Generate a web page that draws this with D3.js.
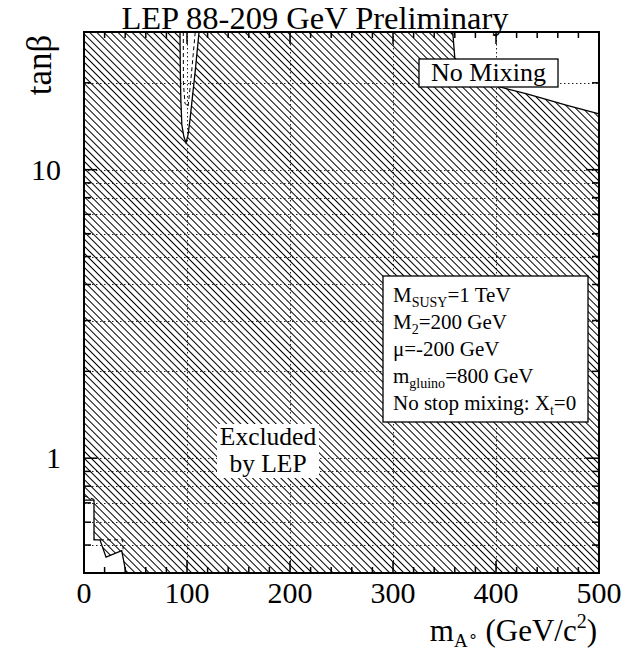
<!DOCTYPE html>
<html>
<head>
<script src="https://d3js.org/d3.v7.min.js"></script>
<style>
  body { margin: 0; background: #fff; }
  svg text { font-family: "Liberation Serif", "Times New Roman", serif; fill: #000; }
</style>
</head>
<body>
<div id="chart"></div>
<script>
// axis ticks
var xMajor = [0, 100, 200, 300, 400, 500];
var xMinor = d3.range(0, 501, 20);
var yMajor = [1, 10];
var yMinor = [0.4, 0.5, 0.6, 0.7, 0.8, 0.9, 2, 3, 4, 5, 6, 7, 8, 9, 20];
var xLabels = ["0", "100", "200", "300", "400", "500"];

// allowed (non-excluded) pockets, [mA, tanb]
var spikeHole = [[93.2, 30], [93.5, 22], [94, 17.5], [95, 14.3], [97, 13], [99, 12.4],
                 [101, 13.2], [103, 15], [105, 17.5], [108, 22], [111.7, 30]];
var cornerHole = [[358, 30], [360, 24.4], [375, 21.5], [400, 19.5], [430, 18.3],
                  [469, 16.7], [500, 15.6], [500, 30]];
var lowHole = [[0, 0.4], [0, 0.716], [9.7, 0.716], [9.7, 0.521], [15.5, 0.521],
               [21.4, 0.454], [36.6, 0.478], [40.8, 0.4]];

// expected limits (dashed)
var spikeExpected = [[96.4, 30], [96.5, 20], [98, 17], [101, 16.5], [103.5, 20], [108, 30]];
var lowExpected1 = [[0, 0.74], [9.7, 0.72]];
var lowExpected2 = [[15.5, 0.521], [37.5, 0.521], [38, 0.48]];

var paramLines = [
  ["M", "SUSY", "=1 TeV"],
  ["M", "2", "=200 GeV"],
  ["\u03bc=-200 GeV", "", ""],
  ["m", "gluino", "=800 GeV"],
  ["No stop mixing: X", "t", "=0"]
];

var W = 627, H = 651;
var L = 84, R = 599, T = 32, B = 573;

var x = d3.scaleLinear().domain([0, 500]).range([L, R]);
var y = d3.scaleLog().domain([0.4, 30]).range([B, T]);

var svg = d3.select("#chart").append("svg").attr("width", W).attr("height", H);

var defs = svg.append("defs");
var pat = defs.append("pattern").attr("id", "hatch")
  .attr("patternUnits", "userSpaceOnUse")
  .attr("width", 5).attr("height", 10)
  .attr("patternTransform", "rotate(-45)");
pat.append("line").attr("x1", 0.5).attr("y1", 0).attr("x2", 0.5).attr("y2", 10)
  .attr("stroke", "#000").attr("stroke-width", 1).attr("shape-rendering", "crispEdges");

var line = d3.line().x(function(d) { return x(d[0]); }).y(function(d) { return y(d[1]); });

// excluded area = frame minus holes
var frame = "M" + x(0) + "," + y(30) + "H" + x(500) + "V" + y(0.4) + "H" + x(0) + "Z";
var holes = [spikeHole, cornerHole, lowHole].map(function(h) { return line(h) + "Z"; }).join("");
svg.append("path").attr("d", frame + holes)
  .attr("fill", "url(#hatch)").attr("fill-rule", "evenodd");

// grid
var grid = svg.append("g").attr("stroke", "#222").attr("stroke-width", 1).attr("stroke-dasharray", "1.5,2.5");
grid.selectAll(".gy").data(yMajor.concat(yMinor).filter(function(v) { return v > 0.4; }))
  .enter().append("line")
  .attr("x1", L).attr("x2", R)
  .attr("y1", function(d) { return Math.round(y(d)) + 0.5; }).attr("y2", function(d) { return Math.round(y(d)) + 0.5; });
grid.selectAll(".gx").data([100, 200, 300, 400]).enter().append("line")
  .attr("y1", T).attr("y2", B)
  .attr("x1", function(d) { return Math.round(x(d)) + 0.5; }).attr("x2", function(d) { return Math.round(x(d)) + 0.5; });

// hole outlines
[spikeHole, lowHole].forEach(function(h) {
  svg.append("path").attr("d", line(h)).attr("fill", "none").attr("stroke", "#000").attr("stroke-width", 1.3);
});
svg.append("path").attr("d", line(cornerHole.slice(0, 7)))
  .attr("fill", "none").attr("stroke", "#000").attr("stroke-width", 1.3);

// expected lines
[spikeExpected, lowExpected1, lowExpected2].forEach(function(h) {
  svg.append("path").attr("d", line(h)).attr("fill", "none").attr("stroke", "#000")
    .attr("stroke-width", 1).attr("stroke-dasharray", "4,3");
});

// frame
svg.append("rect").attr("x", L).attr("y", T).attr("width", R - L).attr("height", B - T)
  .attr("fill", "none").attr("stroke", "#000").attr("stroke-width", 2);

// ticks
var ticks = svg.append("g").attr("stroke", "#000").attr("stroke-width", 1.5);
xMinor.forEach(function(v) {
  var len = xMajor.indexOf(v) >= 0 ? 12 : 6;
  ticks.append("line").attr("x1", x(v)).attr("x2", x(v)).attr("y1", B).attr("y2", B - len);
  ticks.append("line").attr("x1", x(v)).attr("x2", x(v)).attr("y1", T).attr("y2", T + len);
});
yMajor.concat(yMinor).forEach(function(v) {
  var len = yMajor.indexOf(v) >= 0 ? 13 : 7;
  ticks.append("line").attr("y1", y(v)).attr("y2", y(v)).attr("x1", L).attr("x2", L + len);
  ticks.append("line").attr("y1", y(v)).attr("y2", y(v)).attr("x1", R).attr("x2", R - len);
});

// tick labels
svg.selectAll(".xl").data(xMajor).enter().append("text")
  .attr("x", function(d) { return x(d); }).attr("y", 603)
  .attr("text-anchor", "middle").attr("font-size", 30)
  .text(function(d, i) { return xLabels[i]; });
svg.selectAll(".yl").data(yMajor).enter().append("text")
  .attr("x", 61).attr("y", function(d) { return y(d) + 10; })
  .attr("text-anchor", "end").attr("font-size", 30)
  .text(function(d) { return d; });

// title
svg.append("text").attr("x", 315).attr("y", 29).attr("text-anchor", "middle")
  .attr("font-size", 32.5).text("LEP 88-209 GeV Preliminary");

// axis titles
svg.append("text").attr("transform", "translate(51,65) rotate(-90)")
  .attr("text-anchor", "middle").attr("font-size", 35).text("tan\u03b2");

var xt = svg.append("text").attr("x", 597).attr("y", 641).attr("text-anchor", "end").attr("font-size", 31);
xt.append("tspan").text("m");
xt.append("tspan").attr("font-size", 19).attr("dy", 6).text("A");
xt.append("tspan").attr("font-size", 16).attr("dy", -5).text("\u2218");
xt.append("tspan").attr("dy", -1).text(" (GeV/c");
xt.append("tspan").attr("font-size", 20).attr("dy", -13).text("2");
xt.append("tspan").attr("dy", 13).text(")");

// "No Mixing" box
svg.append("rect").attr("x", 419).attr("y", 59).attr("width", 139).attr("height", 28)
  .attr("fill", "#fff").attr("stroke", "#000").attr("stroke-width", 1.3);
svg.append("text").attr("x", 488.5).attr("y", 81).attr("text-anchor", "middle")
  .attr("font-size", 26).text("No Mixing");

// "Excluded by LEP"
svg.append("rect").attr("x", 217).attr("y", 424).attr("width", 102).attr("height", 54).attr("fill", "#fff");
svg.append("text").attr("x", 268).attr("y", 445).attr("text-anchor", "middle").attr("font-size", 25.5).text("Excluded");
svg.append("text").attr("x", 268).attr("y", 472).attr("text-anchor", "middle").attr("font-size", 25.5).text("by LEP");

// parameter box
svg.append("rect").attr("x", 383).attr("y", 276).attr("width", 205).attr("height", 146)
  .attr("fill", "#fff").attr("stroke", "#000").attr("stroke-width", 1.3);
paramLines.forEach(function(p, i) {
  var t = svg.append("text").attr("x", 393).attr("y", 302 + i * 27).attr("font-size", 21);
  t.append("tspan").text(p[0]);
  if (p[1]) {
    t.append("tspan").attr("font-size", 14).attr("dy", 5).text(p[1]);
    t.append("tspan").attr("dy", -5).text(p[2]);
  }
});
</script>
</body>
</html>
